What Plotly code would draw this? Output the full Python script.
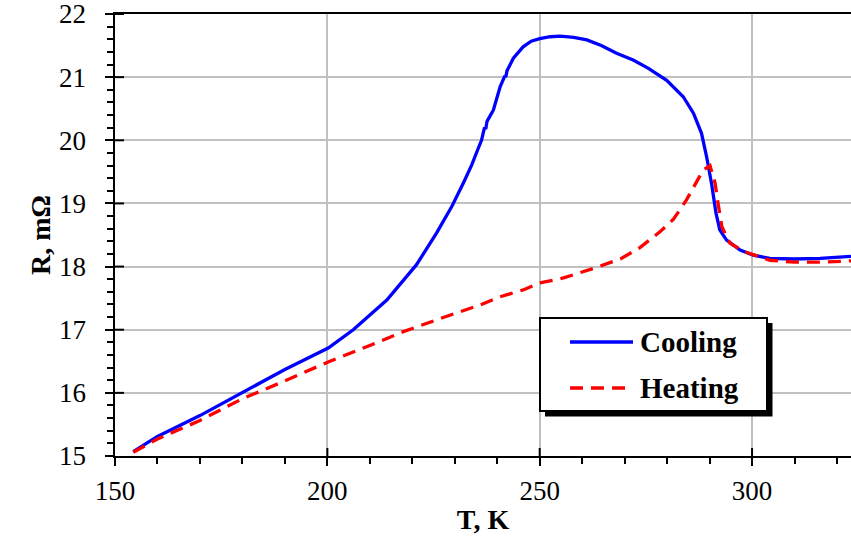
import plotly.graph_objects as go

# ---- data ----
cool_T = [154.3, 160, 170, 180, 190, 200.2, 206.1, 214, 221, 225.7, 229.3, 232, 234, 235.4,
          236.3, 237.0, 237.3, 237.6, 239.1, 240.7, 241.8, 242.0, 242.3, 243.8, 246.1, 248,
          250, 252.5, 254.8, 258, 261.1, 264.5, 268.1, 272, 275.6, 279.9, 283.8, 286.2, 288.1,
          289.3, 290.5, 291.5, 292.4, 294, 297.2, 300.3, 304.2, 310, 316, 323.3]
cool_R = [15.07, 15.31, 15.64, 16.0, 16.37, 16.71, 17.0, 17.47, 18.03, 18.53, 18.95, 19.32,
          19.61, 19.85, 20.0, 20.2, 20.18, 20.3, 20.48, 20.85, 21.02, 21.0, 21.1, 21.30, 21.48,
          21.57, 21.61, 21.64, 21.65, 21.63, 21.59, 21.50, 21.38, 21.27, 21.14, 20.95, 20.69,
          20.43, 20.11, 19.74, 19.30, 18.85, 18.58, 18.42, 18.26, 18.18, 18.13, 18.12, 18.13,
          18.16]

heat_T = [154.3, 160, 169.6, 179.8, 190, 200.2, 210, 217.9, 229.7, 235.9, 240.6, 246.1, 250,
          254.0, 255.6, 262.6, 269, 273.6, 278.3, 281.5, 284.6, 287, 288.5, 290.1, 291.3, 292,
          292.9, 294.8, 298, 304.2, 310, 316, 323.3]
heat_R = [15.06, 15.27, 15.55, 15.90, 16.19, 16.49, 16.75, 16.97, 17.25, 17.39, 17.52, 17.63,
          17.74, 17.79, 17.82, 17.97, 18.12, 18.3, 18.55, 18.75, 19.06, 19.35, 19.53, 19.6,
          19.32, 19.0, 18.63, 18.37, 18.24, 18.1, 18.07, 18.07, 18.09]

x_ticks = [150, 200, 250, 300]
y_ticks = [15, 16, 17, 18, 19, 20, 21, 22]
legend_names = ["Cooling", "Heating"]

FONT = "Liberation Serif"
BLUE = "#0000ff"
RED = "#ff0000"
DASH = "13px,8px"

fig = go.Figure()
fig.add_trace(go.Scatter(x=cool_T, y=cool_R, mode="lines", name=legend_names[0],
                         showlegend=False, line=dict(color=BLUE, width=3.3)))
fig.add_trace(go.Scatter(x=heat_T, y=heat_R, mode="lines", name=legend_names[1],
                         showlegend=False, line=dict(color=RED, width=3.3, dash=DASH)))

# plot-area pixel geometry used for the hand-drawn legend box and tick stubs
L, T_, W, H = 115, 14, 736, 442
def px(x):
    return (x - L) / W
def py(y):
    return (T_ + H - y) / H

shapes = []
# inner halves of the crossing major ticks
for v in x_ticks[1:]:
    shapes.append(dict(type="line", xref="x", yref="paper", x0=v, x1=v, y0=0, y1=8 / H,
                       line=dict(color="black", width=2), layer="above"))
for v in y_ticks[1:]:
    shapes.append(dict(type="line", xref="paper", yref="y", x0=0, x1=9 / W, y0=v, y1=v,
                       line=dict(color="black", width=2), layer="above"))

shapes += [
    dict(type="rect", xref="paper", yref="paper", x0=px(545), x1=px(772.5),
         y0=py(416.5), y1=py(323), fillcolor="black", line=dict(width=0), layer="above"),
    dict(type="rect", xref="paper", yref="paper", x0=px(540), x1=px(767),
         y0=py(411), y1=py(318), fillcolor="white", line=dict(color="black", width=2),
         layer="above"),
    dict(type="line", xref="paper", yref="paper", x0=px(570), x1=px(633),
         y0=py(342), y1=py(342), line=dict(color=BLUE, width=3.3), layer="above"),
    dict(type="line", xref="paper", yref="paper", x0=px(570), x1=px(633),
         y0=py(388), y1=py(388), line=dict(color=RED, width=3.3, dash=DASH), layer="above"),
]
annotations = [
    dict(text=f"<b>{legend_names[0]}</b>", xref="paper", yref="paper", x=px(638), y=py(342),
         xanchor="left", yanchor="middle", showarrow=False,
         font=dict(family=FONT, size=29, color="black")),
    dict(text=f"<b>{legend_names[1]}</b>", xref="paper", yref="paper", x=px(638), y=py(388),
         xanchor="left", yanchor="middle", showarrow=False,
         font=dict(family=FONT, size=29, color="black")),
]

tickfont = dict(family=FONT, size=27, color="black")

fig.update_layout(
    width=851, height=539,
    margin=dict(l=115, r=0, t=14, b=83),
    paper_bgcolor="white", plot_bgcolor="white",
    font=dict(family=FONT, size=27, color="black"),
    showlegend=False,
    shapes=shapes,
    annotations=annotations,
)
fig.update_xaxes(
    range=[150, 323.3], tickmode="array", tickvals=x_ticks, ticktext=[str(v) for v in x_ticks],
    tickfont=tickfont, ticklabeloverflow="allow", ticklabelstandoff=2,
    showline=True, linecolor="black", linewidth=2, mirror=True,
    showgrid=True, gridcolor="#c0c0c0", gridwidth=2, zeroline=False,
    ticks="outside", ticklen=8, tickwidth=2, tickcolor="black",
    minor=dict(dtick=10, tick0=150, ticks="outside", ticklen=6, tickwidth=2,
               tickcolor="black", showgrid=False),
    title=dict(text="<b>T, K</b>", font=dict(family=FONT, size=28, color="black"), standoff=4),
)
fig.update_yaxes(
    range=[15, 22], tickmode="array", tickvals=y_ticks,
    ticktext=[f"{v}\u00a0\u00a0" for v in y_ticks],
    tickfont=tickfont, ticklabeloverflow="allow",
    showline=True, linecolor="black", linewidth=2,
    showgrid=True, gridcolor="#c0c0c0", gridwidth=2, zeroline=False,
    ticks="outside", ticklen=8, tickwidth=2, tickcolor="black",
    minor=dict(dtick=0.2, tick0=15, ticks="outside", ticklen=6, tickwidth=2,
               tickcolor="black", showgrid=False),
    title=dict(text="<b>R, m\u03a9</b>", font=dict(family=FONT, size=28, color="black"),
               standoff=0),
)

fig.write_html("out.html", config={"displayModeBar": False})
